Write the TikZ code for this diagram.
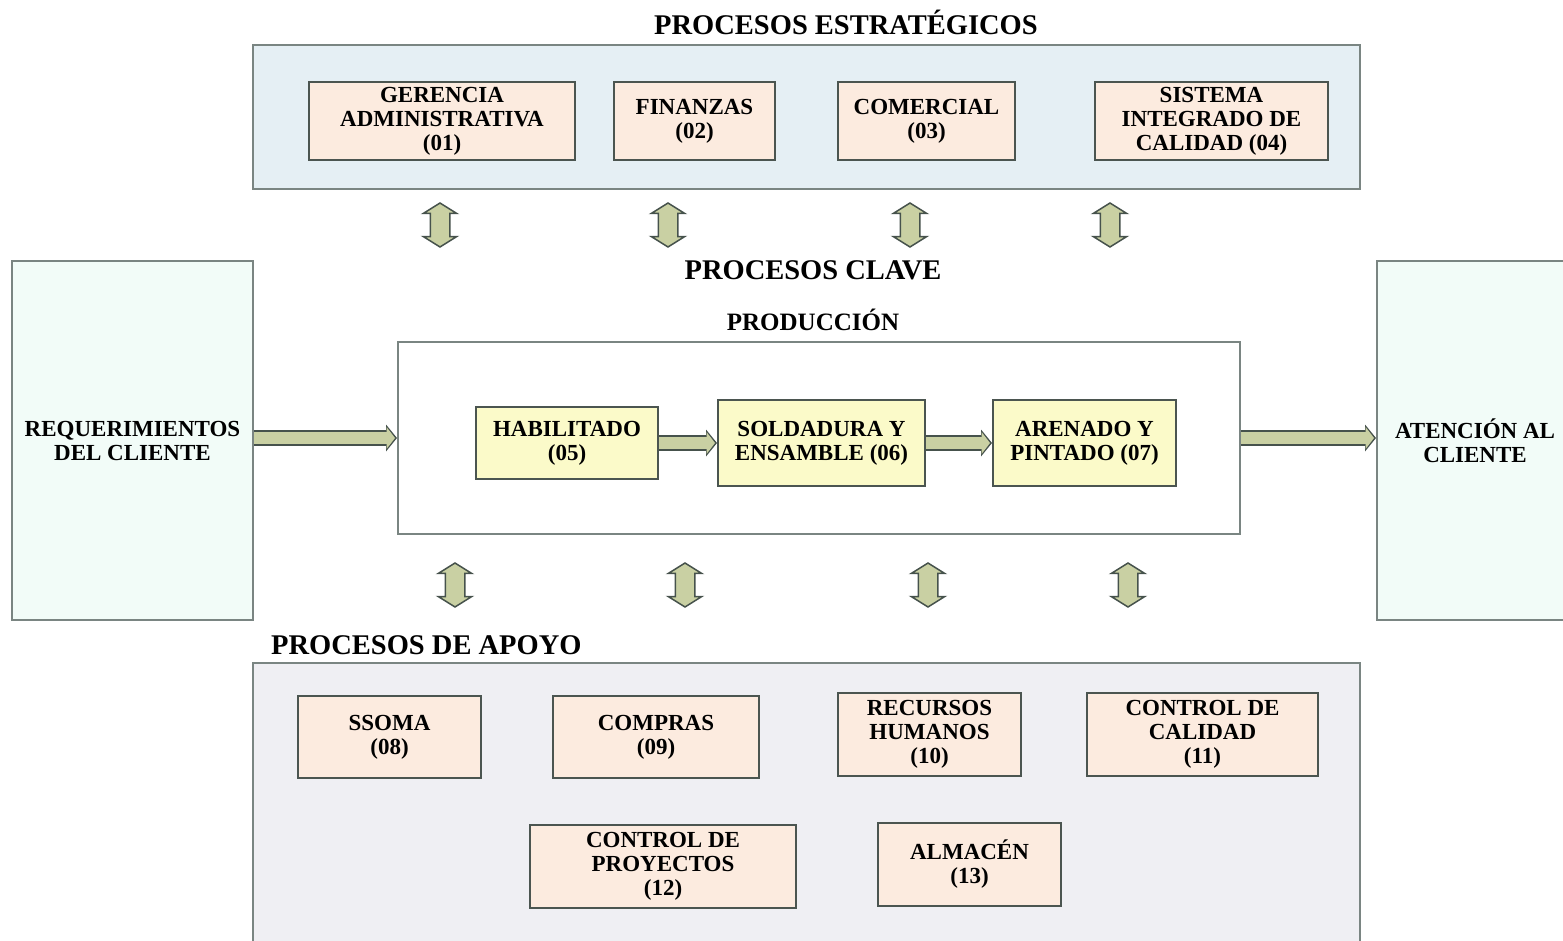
\documentclass[tikz,border=0pt]{standalone}
\usepackage{fontspec}
\setmainfont{Liberation Serif}
\usetikzlibrary{arrows.meta,shapes.arrows}

\definecolor{estrfill}{HTML}{E5EFF4}
\definecolor{apoyofill}{HTML}{EFEFF3}
\definecolor{clientfill}{HTML}{F2FCF8}
\definecolor{peach}{HTML}{FCEBDF}
\definecolor{lightyellow}{HTML}{FBFAC9}
\definecolor{framegray}{HTML}{7A8582}
\definecolor{boxline}{HTML}{4B5550}
\definecolor{arrowfill}{HTML}{C9D0A3}
\definecolor{arrowline}{HTML}{46524C}

\begin{document}
\begin{tikzpicture}[
  x=1pt, y=-1pt,
  font=\bfseries\fontsize{23}{24}\selectfont,
  areabox/.style={draw=framegray, line width=2pt, inner sep=0pt},
  procbox/.style={draw=boxline, line width=2pt, fill=peach, align=center, inner sep=0pt},
  prodbox/.style={procbox, fill=lightyellow},
  clientbox/.style={areabox, fill=clientfill, align=center},
  heading/.style={font=\bfseries\fontsize{28.5}{30}\selectfont, inner sep=0pt},
  vlink/.style={double arrow, shape border rotate=90, draw=arrowline, line width=1.5pt,
    fill=arrowfill, minimum height=44pt, minimum width=0pt, inner sep=9pt,
    double arrow head extend=7pt, double arrow tip angle=116},
  flow/.style={draw=arrowline, line width=16pt,
    -{Triangle[length=11pt,width=27pt,line width=0pt]},
    postaction={draw=arrowfill, line width=12.5pt, shorten >=2pt,
      -{Triangle[length=8.5pt,width=22pt,line width=0pt]}}}
]
\useasboundingbox (0,0) rectangle (1563,941);

% areas
\node[areabox, fill=estrfill, minimum width=1107pt, minimum height=144pt] (estr) at (806.5,117) {};
\node[areabox, fill=apoyofill, minimum width=1107pt, minimum height=290pt] (apoyo) at (806.5,808) {};
\node[areabox, fill=white, minimum width=842pt, minimum height=192pt] (prod) at (819,438) {};
\node[clientbox, minimum width=241pt, minimum height=359pt] (req) at (132.5,440.5) {REQUERIMIENTOS\\DEL CLIENTE};
\node[clientbox, minimum width=196pt, minimum height=359pt] (aten) at (1475,440.5) {ATENCIÓN AL\\CLIENTE};

% headings
\node[heading] (tEstr) at (846,22) {PROCESOS ESTRATÉGICOS};
\node[heading] (tClave) at (813,270) {PROCESOS CLAVE};
\node[heading, font=\bfseries\fontsize{25}{27}\selectfont] (tProd) at (813,320) {PRODUCCIÓN};
\node[heading, anchor=west] (tApoyo) at (271,645) {PROCESOS DE APOYO};

% estrategicos
\node[procbox, minimum width=266pt, minimum height=78pt] (p01) at (442,121) {GERENCIA\\ADMINISTRATIVA\\(01)};
\node[procbox, minimum width=161pt, minimum height=78pt] (p02) at (694.5,121) {FINANZAS\\(02)};
\node[procbox, minimum width=177pt, minimum height=78pt] (p03) at (926.5,121) {COMERCIAL\\(03)};
\node[procbox, minimum width=233pt, minimum height=78pt] (p04) at (1211.5,121) {SISTEMA\\INTEGRADO DE\\CALIDAD (04)};

% produccion
\node[prodbox, minimum width=182pt, minimum height=72pt] (p05) at (567,443) {HABILITADO\\(05)};
\node[prodbox, minimum width=207pt, minimum height=86pt] (p06) at (821.5,443) {SOLDADURA Y\\ENSAMBLE (06)};
\node[prodbox, minimum width=183pt, minimum height=86pt] (p07) at (1084.5,443) {ARENADO Y\\PINTADO (07)};

% apoyo
\node[procbox, minimum width=183pt, minimum height=82pt] (p08) at (389.5,737) {SSOMA\\(08)};
\node[procbox, minimum width=206pt, minimum height=82pt] (p09) at (656,737) {COMPRAS\\(09)};
\node[procbox, minimum width=183pt, minimum height=83pt] (p10) at (929.5,734.5) {RECURSOS\\HUMANOS\\(10)};
\node[procbox, minimum width=231pt, minimum height=83pt] (p11) at (1202.5,734.5) {CONTROL DE\\CALIDAD\\(11)};
\node[procbox, minimum width=266pt, minimum height=83pt] (p12) at (663,866.5) {CONTROL DE\\PROYECTOS\\(12)};
\node[procbox, minimum width=183pt, minimum height=83pt] (p13) at (969.5,864.5) {ALMACÉN\\(13)};

% double arrows
\foreach \px [count=\i] in {440,668,910,1110}
  \node[vlink] (up\i) at (\px,225) {};
\foreach \px [count=\i] in {455,685,928,1128}
  \node[vlink] (dn\i) at (\px,585) {};

% flow
\draw[flow] (prod.west -| req.east) -- (prod.west);
\draw[flow] (p05) -- (p06);
\draw[flow] (p06) -- (p07);
\draw[flow] (prod.east) -- (prod.east -| aten.west);
\end{tikzpicture}
\end{document}
